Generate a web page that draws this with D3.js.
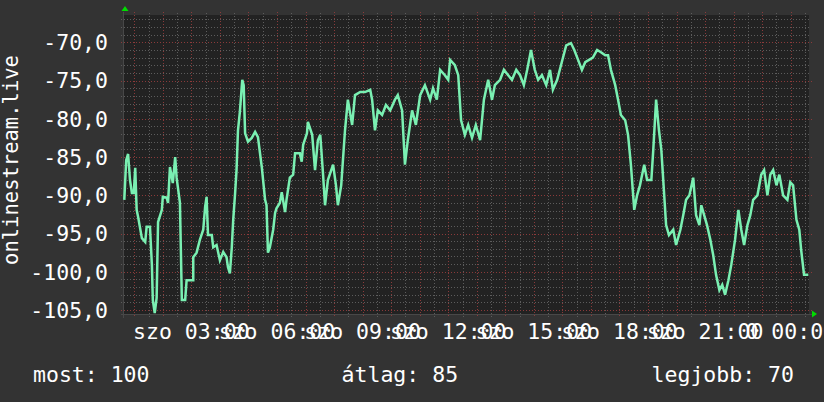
<!DOCTYPE html>
<html>
<head>
<meta charset="utf-8">
<script src="https://cdn.jsdelivr.net/npm/d3@7"></script>
<style>
  body { margin: 0; background: #333333; }
  svg { display: block; }
  text { font-family: "DejaVu Sans Mono", monospace; fill: #ffffff; }
</style>
</head>
<body>
<div id="chart"></div>
<script>
// Size of the picture.
var width = 824;
var height = 402;

// Samples: minutes after midnight and the value.
var minutes = [39, 43, 47, 51, 55, 59, 62, 65, 68, 76, 83, 86, 93, 97, 99, 103, 107, 110, 118, 120,
  128, 131, 135, 141, 146, 149, 156, 160, 167, 170, 184, 184, 191, 198, 205, 209, 212, 215, 223, 226,
  233, 240, 247, 254, 257, 261, 265, 268, 272, 275, 278, 282, 287, 290, 293, 299, 307, 314, 320, 328,
  335, 338, 341, 345, 352, 356, 359, 366, 370, 377, 380, 387, 394, 398, 408, 412, 415, 423, 425, 434,
  440, 446, 451, 457, 461, 467, 478, 484, 488, 495, 503, 509, 518, 524, 535, 545, 556, 560, 566, 572,
  581, 589, 598, 608, 614, 623, 629, 635, 644, 652, 661, 671, 682, 688, 696, 703, 713, 720, 724, 734,
  741, 747, 755, 762, 770, 778, 787, 795, 804, 812, 818, 829, 837, 846, 854, 863, 871, 879, 886, 894,
  902, 909, 917, 926, 934, 940, 949, 957, 968, 978, 985, 993, 1001, 1008, 1016, 1024, 1033, 1041, 1050, 1056,
  1062, 1071, 1077, 1083, 1092, 1098, 1104, 1111, 1117, 1123, 1132, 1138, 1147, 1151, 1157, 1163, 1168, 1172, 1178, 1184,
  1193, 1199, 1208, 1214, 1220, 1227, 1235, 1241, 1248, 1252, 1258, 1264, 1271, 1277, 1283, 1290, 1296, 1302, 1309, 1315,
  1323, 1330, 1336, 1342, 1349, 1355, 1361, 1370, 1378, 1384, 1391, 1397, 1403, 1410, 1416, 1424, 1433, 1439, 1445, 1452,
  1458, 1462, 1468, 1477];
var values = [-90.6, -85.4, -84.6, -88.0, -89.7, -89.7, -86.4, -91.9, -92.8, -95.6, -96.1, -94.1, -94.1, -99.1, -103.7, -105.4, -103.4, -93.5, -91.9, -90.2,
  -90.3, -91.0, -86.3, -88.4, -85.0, -87.7, -91.0, -103.7, -103.7, -101.1, -101.1, -98.1, -97.5, -95.8, -94.5, -91.5, -90.2, -95.2, -95.2, -96.8,
  -96.5, -98.5, -97.4, -98.1, -99.4, -100.2, -96.8, -93.2, -89.7, -86.7, -81.5, -79.1, -74.9, -75.6, -81.9, -83.0, -82.5, -81.7, -82.4, -86.3,
  -90.6, -91.3, -97.5, -96.8, -94.5, -92.3, -91.7, -91.0, -89.6, -92.2, -90.6, -87.7, -87.3, -84.5, -84.5, -85.6, -83.4, -81.9, -80.4, -82.1,
  -86.7, -82.8, -82.1, -87.4, -91.3, -88.0, -86.0, -88.7, -91.3, -88.7, -81.5, -77.5, -80.8, -76.9, -76.5, -76.5, -76.2, -77.5, -81.5, -78.9,
  -79.5, -78.2, -78.9, -77.5, -76.9, -78.9, -86.0, -82.8, -78.9, -80.8, -76.9, -75.6, -77.5, -76.0, -77.5, -73.6, -74.3, -74.9, -72.3, -73.0,
  -74.3, -80.2, -82.1, -80.8, -82.5, -80.8, -82.8, -77.5, -74.9, -77.5, -75.6, -74.9, -73.6, -74.3, -74.9, -73.6, -74.3, -75.6, -73.6, -71.0,
  -73.6, -74.9, -74.3, -75.6, -73.6, -76.2, -74.9, -73.0, -70.4, -70.1, -71.0, -72.3, -73.6, -72.6, -72.3, -72.0, -71.0, -71.3, -71.7, -71.7,
  -73.6, -75.6, -77.5, -79.5, -80.2, -82.1, -86.0, -91.9, -90.0, -88.7, -86.0, -88.0, -88.0, -84.1, -77.5, -81.5, -84.1, -88.0, -93.9, -95.2,
  -94.5, -96.5, -94.5, -92.6, -90.6, -90.0, -87.7, -92.6, -93.9, -91.3, -92.6, -93.9, -95.8, -97.8, -100.4, -102.4, -101.7, -103.0, -101.1, -99.1,
  -95.8, -91.9, -94.5, -96.5, -93.9, -92.6, -90.6, -90.0, -87.3, -86.7, -90.0, -87.3, -86.7, -88.7, -87.3, -90.0, -90.6, -88.3, -88.7, -93.2,
  -94.5, -97.2, -100.4, -100.4];

// Axis ticks and labels.
var yTicks = [-70, -75, -80, -85, -90, -95, -100, -105];
var xTickHours = [3, 6, 9, 12, 15, 18, 21, 24];
var xTickLabels = ["szo 03:00", "szo 06:00", "szo 09:00", "szo 12:00", "szo 15:00", "szo 18:00", "szo 21:00", "0 00:00"];
var yTitle = "onlinestream.live";
var legendLabels = ["most: 100", "átlag: 85", "legjobb: 70"];

// Plot area.
var plotLeft = 124, plotRight = 809, plotTop = 15, plotBottom = 315;

var x = d3.scaleLinear().domain([38.4, 38.4 + 1440]).range([plotLeft, plotRight]);
var y = d3.scaleLinear().domain([-105.65, -66.43]).range([plotBottom, plotTop]);

var svg = d3.select("#chart").append("svg")
    .attr("width", width)
    .attr("height", height);

svg.append("rect")
    .attr("width", width).attr("height", height)
    .attr("fill", "#333333");

svg.append("rect")
    .attr("x", plotLeft).attr("y", plotTop)
    .attr("width", plotRight - plotLeft).attr("height", plotBottom - plotTop)
    .attr("fill", "#222222");

var px = function(v) { return Math.round(v) + 0.5; };

// Grid, minor first then major.
var grid = svg.append("g").attr("shape-rendering", "crispEdges");

var hMinor = d3.range(-105, -66, 1).filter(function(d) { return d % 5 !== 0; });
grid.selectAll(".hminor").data(hMinor).enter().append("line")
    .attr("x1", plotLeft - 3).attr("x2", plotRight + 2)
    .attr("y1", function(d) { return px(y(d)); })
    .attr("y2", function(d) { return px(y(d)); })
    .attr("stroke", "#5c5c5c").attr("stroke-dasharray", "1,2");

var vMinor = d3.range(60, 1480, 30).filter(function(d) { return d % 60 !== 0; });
grid.selectAll(".vminor").data(vMinor).enter().append("line")
    .attr("y1", plotTop - 2).attr("y2", plotBottom + 3)
    .attr("x1", function(d) { return px(x(d)); })
    .attr("x2", function(d) { return px(x(d)); })
    .attr("stroke", "#5c5c5c").attr("stroke-dasharray", "1,2");

grid.selectAll(".hmajor").data(yTicks).enter().append("line")
    .attr("x1", plotLeft - 3).attr("x2", plotRight + 3)
    .attr("y1", function(d) { return px(y(d)); })
    .attr("y2", function(d) { return px(y(d)); })
    .attr("stroke", "#8a3a3a").attr("stroke-dasharray", "1,2");

var vMajor = d3.range(60, 1480, 60);
grid.selectAll(".vmajor").data(vMajor).enter().append("line")
    .attr("y1", plotTop - 3).attr("y2", plotBottom + 3)
    .attr("x1", function(d) { return px(x(d)); })
    .attr("x2", function(d) { return px(x(d)); })
    .attr("stroke", "#8a3a3a").attr("stroke-dasharray", "1,2");

// Axis lines and the two small green arrows.
grid.append("line")
    .attr("x1", plotLeft - 0.5).attr("x2", plotLeft - 0.5).attr("y1", plotTop - 3).attr("y2", plotBottom + 3)
    .attr("stroke", "#484848");
grid.append("line")
    .attr("x1", plotLeft - 3).attr("x2", plotRight + 3).attr("y1", plotBottom - 0.5).attr("y2", plotBottom - 0.5)
    .attr("stroke", "#484848");
svg.append("path")
    .attr("d", "M" + (plotLeft + 1) + "," + (plotTop - 9) + "l-3.5,5h7z")
    .attr("fill", "#00dd00");
svg.append("path")
    .attr("d", "M" + (plotRight + 8) + "," + (plotBottom - 1) + "l-5,-3.5v7z")
    .attr("fill", "#00dd00");

// The data line.
var line = d3.line()
    .x(function(d, i) { return x(minutes[i]); })
    .y(function(d) { return y(d); });

svg.append("path")
    .datum(values)
    .attr("d", line)
    .attr("fill", "none")
    .attr("stroke", "#7af0b2")
    .attr("stroke-width", 2.5)
    .attr("stroke-linejoin", "miter");

// Y tick labels, comma as decimal sign.
svg.selectAll(".ylab").data(yTicks).enter().append("text")
    .attr("x", 108)
    .attr("y", function(d) { return y(d) + 7.8; })
    .attr("text-anchor", "end")
    .style("font-size", "21.5px")
    .text(function(d) { return d3.format(".1f")(d).replace(".", ",").replace("\u2212", "-"); });

// X tick labels, centred on their ticks.
svg.selectAll(".xlab").data(xTickHours).enter().append("text")
    .attr("x", function(d) { return x(d * 60); })
    .attr("y", 339)
    .attr("text-anchor", "middle")
    .style("font-size", "21.5px")
    .text(function(d, i) { return xTickLabels[i]; });

// Y axis title.
svg.append("text")
    .attr("transform", "translate(18,160) rotate(-90)")
    .attr("text-anchor", "middle")
    .style("font-size", "20.5px")
    .text(yTitle);

// Legend along the bottom.
var legendX = [33, 341.6, 651.6];
svg.selectAll(".leg").data(legendLabels).enter().append("text")
    .attr("x", function(d, i) { return legendX[i]; })
    .attr("y", 382)
    .style("font-size", "21.5px")
    .text(function(d) { return d; });
</script>
</body>
</html>
